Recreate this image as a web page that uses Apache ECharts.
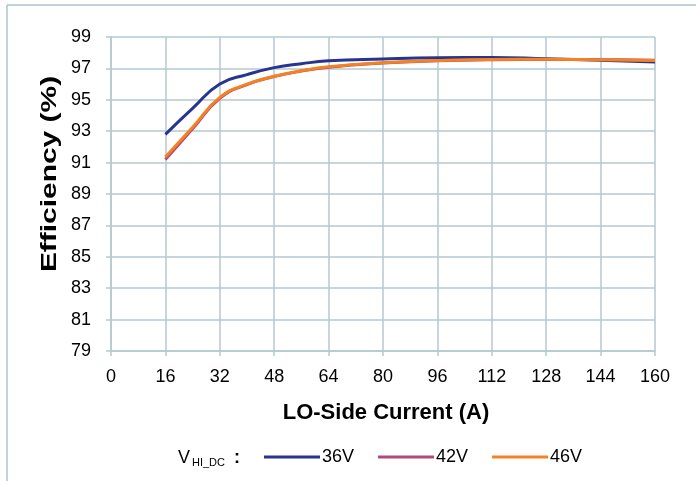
<!DOCTYPE html>
<html>
<head>
<meta charset="utf-8">
<script src="https://cdn.jsdelivr.net/npm/echarts@6/dist/echarts.min.js"></script>
<style>
html,body{margin:0;padding:0;background:#fff;}
#c{width:696px;height:481px;}
</style>
</head>
<body>
<div id="c"></div>
<script>
const current = [16, 24, 32, 40, 48, 56, 64, 80, 96, 112, 128, 144, 160];
const eff36 = [92.8, 94.45, 96.0, 96.6, 97.05, 97.3, 97.48, 97.6, 97.68, 97.7, 97.62, 97.52, 97.4];
const eff42 = [91.2, 93.15, 95.1, 95.97, 96.48, 96.83, 97.08, 97.34, 97.48, 97.55, 97.57, 97.56, 97.52];
const eff46 = [91.35, 93.25, 95.15, 96.0, 96.5, 96.85, 97.1, 97.36, 97.5, 97.57, 97.58, 97.55, 97.5];
const seriesNames = ['36V', '42V', '46V'];
const colors = ['#27358f', '#b2487f', '#f58220'];
const xTitle = 'LO-Side Current (A)';
const yTitle = 'Efficiency (%)';

const pair = (ys) => current.map((x, i) => [x, ys[i]]);
const gridColor = '#b5c9d0';
const font = 'Liberation Sans, Arial, sans-serif';

const chart = echarts.init(document.getElementById('c'));
chart.setOption({
  animation: false,
  backgroundColor: '#fff',
  grid: { left: 111, right: 41, top: 37, bottom: 130, containLabel: false },
  xAxis: {
    type: 'value', min: 0, max: 160, interval: 16,
    axisLine: { show: true, lineStyle: { color: gridColor, width: 1.5 } },
    axisTick: { show: true, length: 5, lineStyle: { color: gridColor, width: 1.5 } },
    axisLabel: { fontFamily: font, fontSize: 18, color: '#000', margin: 17 },
    splitLine: { show: true, lineStyle: { color: gridColor, width: 1.5 } }
  },
  yAxis: {
    type: 'value', min: 79, max: 99, interval: 2,
    axisLine: { show: true, lineStyle: { color: gridColor, width: 1.5 } },
    axisTick: { show: true, length: 5, lineStyle: { color: gridColor, width: 1.5 } },
    axisLabel: { fontFamily: font, fontSize: 18, color: '#000', margin: 20 },
    splitLine: { show: true, lineStyle: { color: gridColor, width: 1.5 } }
  },
  legend: {
    left: 264, top: 448, padding: 0,
    itemWidth: 56, itemHeight: 3, itemGap: 24,
    icon: 'rect',
    textStyle: { fontFamily: font, fontSize: 18, color: '#000', padding: [0, 0, 0, -3] },
    data: seriesNames
  },
  graphic: [
    { type: 'line', shape: { x1: 7, y1: 5, x2: 7, y2: 481 }, style: { stroke: '#a9c4ce', lineWidth: 1.5 } },
    { type: 'line', shape: { x1: 7, y1: 5, x2: 696, y2: 5 }, style: { stroke: '#a9c4ce', lineWidth: 1.5 } },
    {
      type: 'text', x: 386, y: 413,
      style: { text: xTitle, font: 'bold 22px ' + font, fill: '#000', align: 'center', verticalAlign: 'middle' }
    },
    {
      type: 'text', x: 50, y: 174, rotation: Math.PI / 2, scaleX: 1.36,
      style: { text: yTitle, font: 'bold 22px ' + font, fill: '#000', align: 'center', verticalAlign: 'middle' }
    },
    {
      type: 'text', x: 178, y: 449,
      style: { text: 'V', font: '18px ' + font, fill: '#000' }
    },
    {
      type: 'text', x: 192, y: 457,
      style: { text: 'HI_DC', font: '11px ' + font, fill: '#000' }
    },
    {
      type: 'text', x: 234, y: 449,
      style: { text: ':', font: 'bold 18px ' + font, fill: '#000' }
    }
  ],
  series: [
    { name: seriesNames[0], type: 'line', smooth: true, showSymbol: false, data: pair(eff36), itemStyle: { color: colors[0] }, lineStyle: { color: colors[0], width: 3 }, z: 3 },
    { name: seriesNames[1], type: 'line', smooth: true, showSymbol: false, data: pair(eff42), itemStyle: { color: colors[1] }, lineStyle: { color: colors[1], width: 3 }, z: 4 },
    { name: seriesNames[2], type: 'line', smooth: true, showSymbol: false, data: pair(eff46), itemStyle: { color: colors[2] }, lineStyle: { color: colors[2], width: 3 }, z: 5 }
  ]
});
</script>
</body>
</html>
